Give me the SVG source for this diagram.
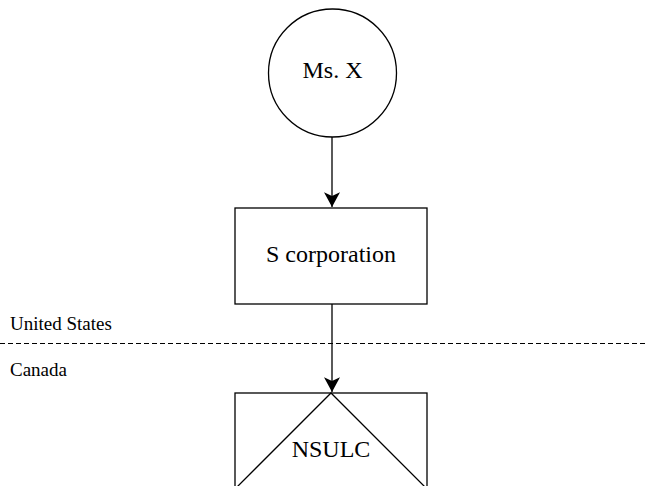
<svg xmlns="http://www.w3.org/2000/svg" width="647" height="486" viewBox="0 0 647 486">
<style>
.s{fill:#fff;stroke:#000;stroke-width:1.3}
text{font-family:'Liberation Serif','Times New Roman',serif;font-size:24px;fill:#000}
.lbl{font-size:19px}
.c{text-anchor:middle}
.ln{stroke:#000;stroke-width:1.3;fill:none}
</style>
<defs>
<marker id="ah" markerUnits="userSpaceOnUse" markerWidth="16" markerHeight="16" refX="12" refY="6.5" orient="auto" viewBox="0 0 12 13">
<path d="M12,6.5 L0,0 L3,6.5 L0,13 Z" fill="#000"/>
</marker>
</defs>
<rect width="647" height="486" fill="#fff"/>
<g id="border">
<line x1="0" y1="343.5" x2="647" y2="343.5" stroke="#000" stroke-width="1.2" stroke-dasharray="5,3"/>
<text class="lbl" x="10" y="330">United States</text>
<text class="lbl" x="10" y="376">Canada</text>
</g>
<g id="connectors">
<line class="ln" x1="332" y1="137" x2="332" y2="207" marker-end="url(#ah)"/>
<line class="ln" x1="332" y1="304" x2="332" y2="392" marker-end="url(#ah)"/>
</g>
<g id="msx">
<circle class="s" cx="332.5" cy="73" r="64"/>
<text class="c" x="332.5" y="78">Ms. X</text>
</g>
<g id="scorp">
<rect class="s" x="235" y="208" width="192" height="96"/>
<text class="c" x="331" y="262">S corporation</text>
</g>
<g id="nsulc">
<rect class="s" x="235" y="393" width="192" height="96"/>
<path class="ln" d="M235,489 L331,393 L427,489"/>
<text class="c" x="331" y="457">NSULC</text>
</g>
</svg>
